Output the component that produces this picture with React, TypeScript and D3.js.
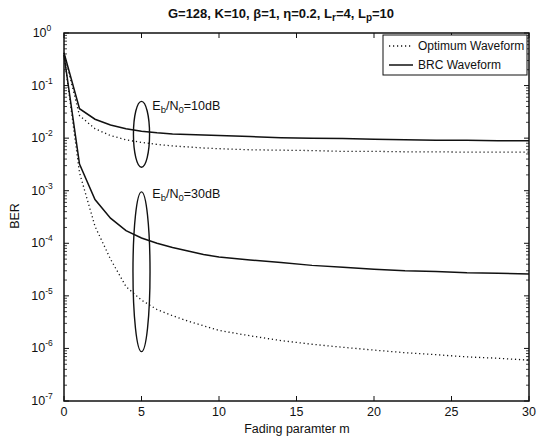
import React from "react";
import * as d3 from "d3";

const mValues = [0, 1, 2, 3, 4, 5, 6, 7, 8, 9, 10, 12, 14, 16, 18, 20, 22, 24, 26, 28, 30];
const brc10 = [0.42, 0.0363, 0.0229, 0.0178, 0.0151, 0.0135, 0.0126, 0.012, 0.0117, 0.0115, 0.0112, 0.0107, 0.0102, 0.01, 0.0098, 0.0095, 0.0093, 0.0091, 0.0091, 0.0089, 0.0089];
const opt10 = [0.42, 0.0269, 0.0151, 0.0112, 0.0093, 0.0083, 0.0076, 0.0071, 0.0068, 0.0065, 0.0063, 0.006, 0.0059, 0.0058, 0.0056, 0.0056, 0.0055, 0.0055, 0.0054, 0.0054, 0.0054];
const brc30 = [0.38, 3.2e-3, 6.8e-4, 3.0e-4, 1.74e-4, 1.26e-4, 1.0e-4, 8.3e-5, 7.1e-5, 6.1e-5, 5.5e-5, 4.8e-5, 4.3e-5, 3.8e-5, 3.5e-5, 3.2e-5, 3.0e-5, 2.9e-5, 2.75e-5, 2.7e-5, 2.6e-5];
const opt30 = [0.38, 2.2e-3, 2.1e-4, 5.0e-5, 1.5e-5, 8.3e-6, 5.5e-6, 4.2e-6, 3.3e-6, 2.7e-6, 2.2e-6, 1.74e-6, 1.41e-6, 1.2e-6, 1.05e-6, 9.3e-7, 8.3e-7, 7.6e-7, 6.9e-7, 6.5e-7, 6.0e-7];

const xTicks = [0, 5, 10, 15, 20, 25, 30];
const yExponents = [0, -1, -2, -3, -4, -5, -6, -7];
const legendLabels = ["Optimum Waveform", "BRC Waveform"];
const titleText = "G=128, K=10, \u03B2=1, \u03B7=0.2,  L";

// ellipse annotations: center m, top/bottom BER, half-width in m
const ellipses = [
  { m: 5, top: 0.05, bottom: 2.8e-3, rx: 0.52, label: "10dB", labelM: 5.7, labelY: 0.034 },
  { m: 5, top: 9.5e-4, bottom: 8.7e-7, rx: 0.55, label: "30dB", labelM: 5.7, labelY: 7.2e-4 },
];

const W = 541, H = 440;
const L = 64, R = 529, T = 33, B = 401;

export default function App() {
  const x = d3.scaleLinear().domain([0, 30]).range([L, R]);
  const y = d3.scaleLog().domain([1e-7, 1]).range([B, T]);
  const line = (vals: number[]) =>
    d3.line<number>().x((_, i) => x(mValues[i])).y((v) => y(v))(vals) || "";

  const font = "'Liberation Sans', Arial, Helvetica, sans-serif";
  const minorY: number[] = [];
  for (let e = -7; e < 0; e++) for (let k = 2; k <= 9; k++) minorY.push(k * Math.pow(10, e));

  return (
    <svg width={W} height={H} style={{ position: "absolute", left: 0, top: 0, background: "#fff" }} fontFamily={font}>
      <rect x={0} y={0} width={W} height={H} fill="#fff" />
      {/* title */}
      <text x={281} y={18} textAnchor="middle" fontSize={13} fontWeight="bold" fill="#111">
        {titleText}
        <tspan fontSize={10} dy={3}>r</tspan>
        <tspan dy={-3}>=4, L</tspan>
        <tspan fontSize={10} dy={3}>p</tspan>
        <tspan dy={-3}>=10</tspan>
      </text>
      {/* ticks */}
      {xTicks.map((t) => (
        <g key={"xt" + t}>
          <line x1={x(t)} x2={x(t)} y1={B} y2={B - 5} stroke="#111" strokeWidth={1} />
          <line x1={x(t)} x2={x(t)} y1={T} y2={T + 5} stroke="#111" strokeWidth={1} />
          <text x={x(t)} y={B + 15} textAnchor="middle" fontSize={12.5} fill="#111">{t}</text>
        </g>
      ))}
      {yExponents.map((e) => (
        <g key={"yt" + e}>
          <line x1={L} x2={L + 5} y1={y(Math.pow(10, e))} y2={y(Math.pow(10, e))} stroke="#111" />
          <line x1={R} x2={R - 5} y1={y(Math.pow(10, e))} y2={y(Math.pow(10, e))} stroke="#111" />
          <text x={L - 22} y={y(Math.pow(10, e)) + 4} textAnchor="middle" fontSize={12.5} fill="#111">
            10<tspan fontSize={8.5} dy={-6}>{e}</tspan>
          </text>
        </g>
      ))}
      {minorY.map((v, i) => (
        <g key={"my" + i}>
          <line x1={L} x2={L + 3} y1={y(v)} y2={y(v)} stroke="#111" strokeWidth={0.8} />
          <line x1={R} x2={R - 3} y1={y(v)} y2={y(v)} stroke="#111" strokeWidth={0.8} />
        </g>
      ))}
      {/* curves */}
      <path d={line(opt10)} fill="none" stroke="#111" strokeWidth={1.3} strokeDasharray="1.2,2.8" />
      <path d={line(opt30)} fill="none" stroke="#111" strokeWidth={1.3} strokeDasharray="1.2,2.8" />
      <path d={line(brc10)} fill="none" stroke="#111" strokeWidth={1.5} />
      <path d={line(brc30)} fill="none" stroke="#111" strokeWidth={1.5} />
      {/* ellipses */}
      {ellipses.map((el, i) => {
        const cy = (y(el.top) + y(el.bottom)) / 2;
        const ry = (y(el.bottom) - y(el.top)) / 2;
        const rx = x(el.m + el.rx) - x(el.m);
        return (
          <g key={"el" + i}>
            <ellipse cx={x(el.m)} cy={cy} rx={rx} ry={ry} fill="none" stroke="#111" strokeWidth={1.4} />
            <text x={x(el.labelM)} y={y(el.labelY)} fontSize={12.5} fill="#111">
              E<tspan fontSize={9.5} dy={3}>b</tspan>
              <tspan dy={-3}>/N</tspan>
              <tspan fontSize={9.5} dy={3}>0</tspan>
              <tspan dy={-3}>={el.label}</tspan>
            </text>
          </g>
        );
      })}
      {/* frame */}
      <rect x={L} y={T} width={R - L} height={B - T} fill="none" stroke="#111" strokeWidth={1.5} />
      {/* legend */}
      <rect x={383} y={35} width={144} height={40} fill="#fff" stroke="#111" strokeWidth={1} />
      <line x1={389} x2={413} y1={46} y2={46} stroke="#111" strokeWidth={1.3} strokeDasharray="1.2,2.8" />
      <text x={418} y={50} fontSize={12} fill="#111">{legendLabels[0]}</text>
      <line x1={389} x2={413} y1={65} y2={65} stroke="#111" strokeWidth={1.5} />
      <text x={418} y={69} fontSize={12} fill="#111">{legendLabels[1]}</text>
      {/* axis labels */}
      <text x={297} y={433} textAnchor="middle" fontSize={12.5} fill="#111">Fading paramter m</text>
      <text transform={`translate(19,216) rotate(-90)`} textAnchor="middle" fontSize={12.5} fill="#111">BER</text>
    </svg>
  );
}
